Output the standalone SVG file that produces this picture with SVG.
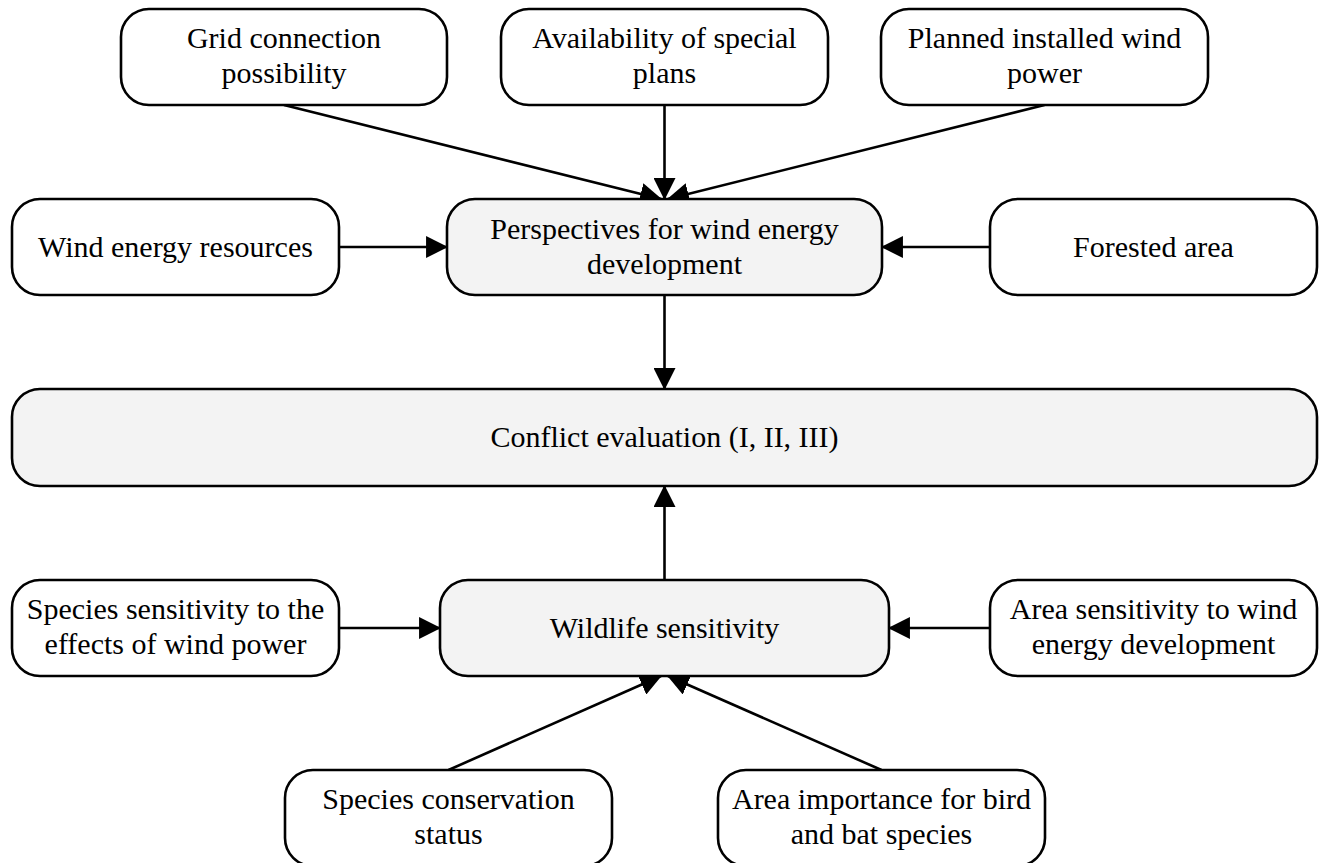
<svg xmlns="http://www.w3.org/2000/svg" width="1322" height="863" viewBox="0 0 1322 863">
<style>
.box{fill:#ffffff;stroke:#000000;stroke-width:2.6}
.gray{fill:#f3f3f3}
.t{font-family:"Liberation Serif","Times New Roman",serif;font-size:30px;fill:#000000;text-anchor:middle}
.c{stroke:#000000;stroke-width:2.6;fill:none;marker-end:url(#ah)}
</style>
<defs>
<marker id="ah" markerUnits="userSpaceOnUse" markerWidth="22" markerHeight="22" viewBox="0 0 21 21" refX="20" refY="10.5" orient="auto">
<path d="M0,0 L21,10.5 L0,21 z" fill="#000000"/>
</marker>
</defs>
<rect width="1322" height="863" fill="#ffffff"/>
<g id="connectors">
<line class="c" x1="284" y1="105" x2="661" y2="199"/>
<line class="c" x1="664.5" y1="105" x2="664.5" y2="199"/>
<line class="c" x1="1044.5" y1="105" x2="668" y2="199"/>
<line class="c" x1="339" y1="247" x2="447" y2="247"/>
<line class="c" x1="990" y1="247" x2="882" y2="247"/>
<line class="c" x1="664.5" y1="295" x2="664.5" y2="389"/>
<line class="c" x1="664.5" y1="580" x2="664.5" y2="486"/>
<line class="c" x1="339" y1="628" x2="440" y2="628"/>
<line class="c" x1="990" y1="628" x2="889" y2="628"/>
<line class="c" x1="448.5" y1="770" x2="661" y2="676"/>
<line class="c" x1="881.5" y1="770" x2="668" y2="676"/>
</g>
<g id="grid">
<rect class="box" x="121" y="9" width="326" height="96" rx="28"/>
<text class="t" x="284" y="48">Grid connection</text>
<text class="t" x="284" y="83">possibility</text>
</g>
<g id="plans">
<rect class="box" x="501" y="9" width="327" height="96" rx="28"/>
<text class="t" x="664.5" y="48">Availability of special</text>
<text class="t" x="664.5" y="83">plans</text>
</g>
<g id="planned">
<rect class="box" x="881" y="9" width="327" height="96" rx="28"/>
<text class="t" x="1044.5" y="48">Planned installed wind</text>
<text class="t" x="1044.5" y="83">power</text>
</g>
<g id="resources">
<rect class="box" x="12" y="199" width="327" height="96" rx="28"/>
<text class="t" x="175.5" y="257">Wind energy resources</text>
</g>
<g id="perspectives">
<rect class="box gray" x="447" y="199" width="435" height="96" rx="28"/>
<text class="t" x="664.5" y="239">Perspectives for wind energy</text>
<text class="t" x="664.5" y="274">development</text>
</g>
<g id="forested">
<rect class="box" x="990" y="199" width="327" height="96" rx="28"/>
<text class="t" x="1153.5" y="257">Forested area</text>
</g>
<g id="conflict">
<rect class="box gray" x="12" y="389" width="1305" height="97" rx="28"/>
<text class="t" x="664.5" y="447">Conflict evaluation (I, II, III)</text>
</g>
<g id="species-sensitivity">
<rect class="box" x="12" y="580" width="327" height="96" rx="28"/>
<text class="t" x="175.5" y="619">Species sensitivity to the</text>
<text class="t" x="175.5" y="654">effects of wind power</text>
</g>
<g id="wildlife">
<rect class="box gray" x="440" y="580" width="449" height="96" rx="28"/>
<text class="t" x="664.5" y="638">Wildlife sensitivity</text>
</g>
<g id="area-sensitivity">
<rect class="box" x="990" y="580" width="327" height="96" rx="28"/>
<text class="t" x="1153.5" y="619">Area sensitivity to wind</text>
<text class="t" x="1153.5" y="654">energy development</text>
</g>
<g id="conservation">
<rect class="box" x="285" y="770" width="327" height="96" rx="28"/>
<text class="t" x="448.5" y="809">Species conservation</text>
<text class="t" x="448.5" y="844">status</text>
</g>
<g id="importance">
<rect class="box" x="718" y="770" width="327" height="96" rx="28"/>
<text class="t" x="881.5" y="809">Area importance for bird</text>
<text class="t" x="881.5" y="844">and bat species</text>
</g>
</svg>
